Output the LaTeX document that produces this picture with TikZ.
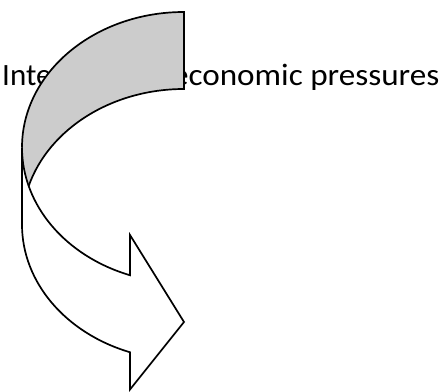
\documentclass[tikz,border=0pt]{standalone}
\usepackage{fontspec}
\usepackage{tikz}
\newfontfamily\labelfont{Carlito}
\newfontfamily\labelwidefont[FakeStretch=1.07]{Carlito}
\definecolor{bandgray}{HTML}{CCCCCC}
\tikzset{
  caption/.style={font=\labelfont\fontsize{31}{37}\selectfont, text=black, inner sep=0pt, anchor=base west},
  backband/.style={fill=bandgray},
  frontbody/.style={fill=white, draw=black, line width=1.7pt},
  outline/.style={draw=black, line width=1.7pt},
  turn/.style={x radius=162, y radius=135.5}
}

\begin{document}
\begin{tikzpicture}[x=1pt, y=1pt]
\useasboundingbox (0,0) rectangle (443,391);
\node[caption] (pressures) at (2,305) {International {\labelwidefont economic pressures}};
\fill[backband] (22,243.5) arc[start angle=180, end angle=90, turn] -- (184,302)
  arc[start angle=90, end angle=180, turn] -- cycle;
\draw[frontbody] (22,243.5) arc[start angle=180, end angle=250.53, turn] -- (130,156)
  -- (184,69) -- (130,1.5) -- (130,38.75) arc[start angle=250.53, end angle=180, turn] -- cycle;
\draw[outline] (22,243.5) arc[start angle=180, end angle=90, turn] -- (184,302)
  arc[start angle=90, end angle=163.5, turn];
\end{tikzpicture}
\end{document}
